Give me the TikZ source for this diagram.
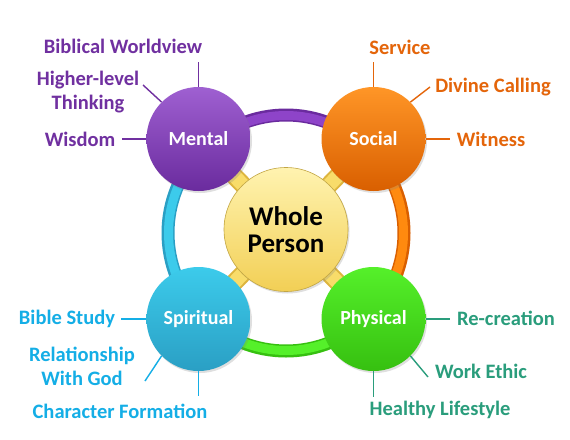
\documentclass[tikz,border=0pt]{standalone}
\usepackage{fontspec}
\setmainfont{Carlito}
\usetikzlibrary{shadows}
\pgfdeclarelayer{back}
\pgfdeclarelayer{bars}
\pgfsetlayers{back,bars,main}
\definecolor{mpurple}{HTML}{8E44C9}
\definecolor{mpurpleD}{HTML}{6A2B9E}
\definecolor{mtext}{HTML}{7030A0}
\definecolor{sorange}{HTML}{FF8A0F}
\definecolor{sorangeD}{HTML}{D95F00}
\definecolor{stext}{HTML}{E4650A}
\definecolor{pcyan}{HTML}{3CCBEB}
\definecolor{pcyanD}{HTML}{2A9FC4}
\definecolor{ptext}{HTML}{14AEE6}
\definecolor{pgreen}{HTML}{55F02A}
\definecolor{pgreenD}{HTML}{36C010}
\definecolor{gtext}{HTML}{2A9D7C}
\definecolor{wyel}{HTML}{FFEE8E}
\definecolor{wyelD}{HTML}{F2CF55}
\definecolor{barY}{HTML}{F8DC6A}
\definecolor{barYD}{HTML}{DDB53E}
\tikzset{
  ball/.style={circle, minimum size=104pt, inner sep=0pt, font=\bfseries\fontsize{20}{22}\selectfont, text=white,
    drop shadow={opacity=0.25, shadow xshift=1.5pt, shadow yshift=-2pt}},
  lbl/.style={font=\bfseries\fontsize{20.5}{24}\selectfont, inner sep=0pt, align=center},
  tick/.style={line width=1.4pt},
}
\begin{document}
\begin{tikzpicture}[x=1pt,y=-1pt]
\useasboundingbox (0,0) rectangle (570,439);
\begin{pgfonlayer}{back}
\fill[white] (0,0) rectangle (570,439);
% ring arcs
\coordinate (rc) at (286,233);
\foreach \a/\c/\d in {225/mpurple/mpurpleD, 315/sorange/sorangeD, 45/pgreen/pgreenD, 135/pcyan/pcyanD}{
  \draw[\d, line width=13pt] (rc) ++(\a:118) arc[start angle=\a, delta angle=90, radius=118];
  \draw[\c, line width=9pt] (rc) ++(\a:117.5) arc[start angle=\a, delta angle=90, radius=117.5];
}
\end{pgfonlayer}
% nodes
\node[ball, top color=mpurple!85!white, bottom color=mpurpleD] (m) at (198.5,139) {Mental};
\node[ball, top color=sorange!90!white, bottom color=sorangeD] (s) at (373.5,139) {Social};
\node[ball, top color=pcyan, bottom color=pcyanD] (sp) at (198.5,319) {Spiritual};
\node[ball, top color=pgreen, bottom color=pgreenD] (ph) at (373.5,319) {Physical};
\node[circle, minimum size=124pt, inner sep=0pt, top color=wyel!70!white, bottom color=wyelD, draw=wyelD!80!black, line width=0.6pt,
  font=\bfseries\fontsize{27}{29}\selectfont, align=center, text=black,
  drop shadow={opacity=0.25, shadow xshift=1.5pt, shadow yshift=-2pt}] (wp) at (286,229.5) {Whole\\[-2pt]Person};
% bars
\begin{pgfonlayer}{bars}
\foreach \n in {m,s,sp,ph}{
  \draw[barYD, line width=18pt] (wp.center) -- (\n.center);
  \draw[barY, line width=14pt] (wp.center) -- (\n.center);
}
\end{pgfonlayer}

% Mental labels
\node[lbl, text=mtext] (m1) at (123,46) {Biblical Worldview};
\node[lbl, text=mtext] (m2) at (88,92) {Higher-level\\Thinking};
\node[lbl, text=mtext] (m3) at (80,139.5) {Wisdom};
\coordinate (m1e) at (198.5,62);
\coordinate (m2e) at (143,85);
\coordinate (m3e) at (122,139);
\draw[tick, mtext] (m.north) -- (m1e);
\draw[tick, mtext] (m.135) -- (m2e);
\draw[tick, mtext] (m.west) -- (m3e);
% Social labels
\node[lbl, text=stext] (s1) at (400,47) {Service};
\node[lbl, text=stext] (s2) at (493,87.5) {Divine Calling};
\node[lbl, text=stext] (s3) at (491,139.5) {Witness};
\coordinate (s1e) at (373.5,62);
\coordinate (s2e) at (430,87);
\coordinate (s3e) at (450,139);
\draw[tick, stext] (s.north) -- (s1e);
\draw[tick, stext] (s.45) -- (s2e);
\draw[tick, stext] (s.east) -- (s3e);
% Spiritual labels
\node[lbl, text=ptext] (p1) at (67,319) {Bible Study};
\node[lbl, text=ptext] (p2) at (82,366) {Relationship\\With God};
\node[lbl, text=ptext] (p3) at (120,411) {Character Formation};
\coordinate (p1e) at (121,319);
\coordinate (p2e) at (145,381);
\coordinate (p3e) at (198.5,396);
\draw[tick, ptext] (sp.west) -- (p1e);
\draw[tick, ptext] (sp.225) -- (p2e);
\draw[tick, ptext] (sp.south) -- (p3e);
% Physical labels
\node[lbl, text=gtext] (g1) at (506,318.5) {Re-creation};
\node[lbl, text=gtext] (g2) at (481,371) {Work Ethic};
\node[lbl, text=gtext] (g3) at (440,410) {Healthy Lifestyle};
\coordinate (g1e) at (450,319);
\coordinate (g2e) at (428,377);
\coordinate (g3e) at (373.5,397);
\draw[tick, gtext] (ph.east) -- (g1e);
\draw[tick, gtext] (ph.-45) -- (g2e);
\draw[tick, gtext] (ph.south) -- (g3e);
\end{tikzpicture}
\end{document}
